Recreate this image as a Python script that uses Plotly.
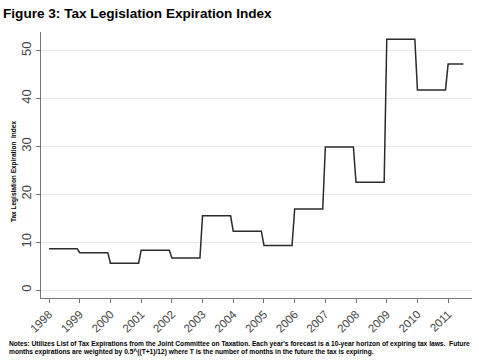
import plotly.graph_objects as go

years = [1998, 1999, 2000, 2001, 2002, 2003, 2004, 2005, 2006, 2007, 2008, 2009, 2010, 2011]
index_values = [8.6, 7.8, 5.6, 8.3, 6.7, 15.5, 12.3, 9.3, 16.9, 29.9, 22.5, 52.4, 41.8, 47.2]
last_month = [12, 12, 12, 12, 12, 12, 12, 12, 12, 12, 12, 12, 12, 7]
y_ticks = [0, 10, 20, 30, 40, 50]

xs, ys = [], []
for yr, v, lm in zip(years, index_values, last_month):
    xs += [f"{yr}-01-01", f"{yr}-{lm:02d}-01"]
    ys += [v, v]

fig = go.Figure()
fig.add_trace(go.Scatter(x=xs, y=ys, mode="lines",
                         line=dict(color="#2b2b2b", width=1.5), showlegend=False))

fig.update_layout(
    width=479, height=361,
    margin=dict(l=41, r=7, t=32, b=63, autoexpand=False),
    paper_bgcolor="white", plot_bgcolor="white",
    font=dict(family="Liberation Sans, Arial, sans-serif", color="#444"),
    title=dict(text="<b>Figure 3: Tax Legislation Expiration Index</b>",
               xref="container", x=3/479, xanchor="left",
               yref="container", y=1-13.5/361, yanchor="middle",
               font=dict(size=13.6, color="black"), automargin=False),
)
fig.update_xaxes(
    type="date", range=["1997-09-27", "2011-10-12"],
    tickmode="array", tickvals=[f"{y}-01-01" for y in years],
    ticktext=[str(y) for y in years], tickangle=-45,
    tickfont=dict(size=11.5, color="#444"),
    ticks="outside", ticklen=4, tickcolor="#777",
    showline=True, linecolor="#777", linewidth=1,
    showgrid=False, zeroline=False, automargin=False,
)
fig.update_yaxes(
    range=[-1.67, 53.9], tickmode="array", tickvals=y_ticks,
    tickangle=-90, tickfont=dict(size=13, color="#444"),
    ticks="outside", ticklen=4, tickcolor="#777",
    showline=True, linecolor="#777", linewidth=1,
    showgrid=True, gridcolor="#e9e9e9", gridwidth=1, zeroline=False,
    automargin=False,
)

fig.add_annotation(text="<b>Tax Legislation Expiration  Index</b>", textangle=-90,
                   xref="paper", yref="paper", x=(14-41)/431, y=(298-172)/266,
                   xanchor="center", yanchor="middle", showarrow=False,
                   font=dict(size=6.5, color="black"))
fig.add_annotation(text="<b>Notes: Utilizes List of Tax Expirations from the Joint Committee on Taxation. Each year's forecast is a 10-year horizon of expiring tax laws.  Future</b>",
                   xref="paper", yref="paper", x=(7-41)/431, y=(298-343.5)/266,
                   xanchor="left", yanchor="middle", showarrow=False,
                   font=dict(size=6.65, color="black"))
fig.add_annotation(text="<b>months expirations are weighted by 0.5^((T+1)/12) where T is the number of months in the future the tax is expiring.</b>",
                   xref="paper", yref="paper", x=(7-41)/431, y=(298-352)/266,
                   xanchor="left", yanchor="middle", showarrow=False,
                   font=dict(size=6.65, color="black"))

fig.write_html("out.html", config={"displayModeBar": False},
               post_script="document.body.style.margin='0';document.body.style.padding='0';")
